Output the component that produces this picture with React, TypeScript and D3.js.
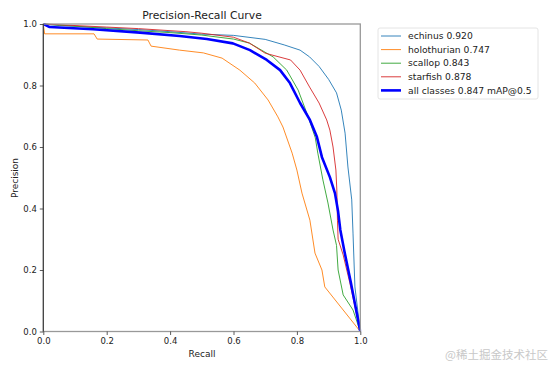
import React, { useEffect, useRef } from 'react';
import * as d3 from 'd3';

// [recall, precision] pairs
const echinus: [number, number][] = [
  [0, 1], [0.05, 0.995], [0.15, 0.99], [0.3, 0.982], [0.4, 0.975], [0.5, 0.967],
  [0.6, 0.963], [0.7, 0.95], [0.76, 0.932], [0.81, 0.915], [0.84, 0.893], [0.87, 0.862],
  [0.9, 0.82], [0.925, 0.776], [0.94, 0.72], [0.952, 0.645], [0.961, 0.535],
  [0.973, 0.428], [0.977, 0.32], [0.983, 0.145], [1, 0],
];
const holothurian: [number, number][] = [
  [0, 1], [0.004, 0.968], [0.16, 0.968], [0.17, 0.951], [0.33, 0.948], [0.34, 0.928],
  [0.43, 0.915], [0.505, 0.906], [0.564, 0.889], [0.62, 0.85], [0.667, 0.808],
  [0.709, 0.753], [0.74, 0.698], [0.756, 0.665], [0.785, 0.58], [0.8, 0.525],
  [0.816, 0.45], [0.841, 0.362], [0.857, 0.255], [0.879, 0.2], [0.888, 0.145], [1, 0],
];
const scallop: [number, number][] = [
  [0, 1], [0.1, 0.993], [0.2, 0.985], [0.3, 0.978], [0.4, 0.972], [0.5, 0.964],
  [0.6, 0.951], [0.65, 0.938], [0.725, 0.893], [0.768, 0.85], [0.804, 0.785],
  [0.835, 0.7], [0.858, 0.63], [0.866, 0.58], [0.882, 0.493], [0.898, 0.418],
  [0.914, 0.33], [0.925, 0.28], [0.93, 0.2], [0.946, 0.119], [0.977, 0.07], [1, 0],
];
const starfish: [number, number][] = [
  [0, 1], [0.1, 0.995], [0.2, 0.99], [0.3, 0.985], [0.45, 0.975], [0.5, 0.97],
  [0.6, 0.957], [0.65, 0.938], [0.7, 0.905], [0.78, 0.883], [0.81, 0.85], [0.84, 0.795],
  [0.87, 0.743], [0.894, 0.688], [0.904, 0.655], [0.914, 0.6], [0.923, 0.525],
  [0.926, 0.46], [0.928, 0.36], [0.93, 0.3], [0.946, 0.249], [0.967, 0.158], [1, 0],
];
const allClasses: [number, number][] = [
  [0, 1], [0.02, 0.99], [0.157, 0.983], [0.305, 0.972], [0.43, 0.961], [0.516, 0.951],
  [0.598, 0.937], [0.652, 0.915], [0.705, 0.883], [0.747, 0.85], [0.778, 0.808],
  [0.81, 0.743], [0.841, 0.688], [0.863, 0.633], [0.879, 0.567], [0.904, 0.502],
  [0.92, 0.45], [0.93, 0.39], [0.937, 0.33], [0.95, 0.26], [0.97, 0.16], [1, 0],
];

const seriesNames = ['echinus 0.920', 'holothurian 0.747', 'scallop 0.843', 'starfish 0.878', 'all classes 0.847 mAP@0.5'];
const seriesData = [echinus, holothurian, scallop, starfish, allClasses];
const seriesColors = ['#1f77b4', '#ff7f0e', '#2ca02c', '#d62728', '#0000ff'];
const tickValues = [0, 0.2, 0.4, 0.6, 0.8, 1.0];

const W = 553, H = 369;
const plot = { left: 43.3, right: 360.3, top: 24, bottom: 331.5 };
const font = 'DejaVu Sans, sans-serif';

const App = () => {
  const ref = useRef<SVGSVGElement>(null);

  useEffect(() => {
    const svg = d3.select(ref.current);
    svg.selectAll('*').remove();

    const x = d3.scaleLinear().domain([0, 1]).range([plot.left, plot.right]);
    const y = d3.scaleLinear().domain([0, 1]).range([plot.bottom, plot.top]);

    // curves
    const line = d3.line<[number, number]>().x(d => x(d[0])).y(d => y(d[1]));
    svg.append('clipPath').attr('id', 'plotclip').append('rect')
      .attr('x', plot.left).attr('y', plot.top - 1)
      .attr('width', plot.right - plot.left + 1).attr('height', plot.bottom - plot.top + 2);
    const g = svg.append('g').attr('clip-path', 'url(#plotclip)');
    seriesData.forEach((d, i) => {
      g.append('path')
        .attr('d', line(d))
        .attr('fill', 'none')
        .attr('stroke', seriesColors[i])
        .attr('stroke-width', i === 4 ? 2.6 : 0.9)
        .attr('stroke-linejoin', 'round');
    });

    // spines
    svg.append('rect')
      .attr('x', plot.left).attr('y', plot.top)
      .attr('width', plot.right - plot.left).attr('height', plot.bottom - plot.top)
      .attr('fill', 'none').attr('stroke', '#999').attr('stroke-width', 1.3);
    svg.append('line')
      .attr('x1', plot.left).attr('x2', plot.left).attr('y1', plot.top).attr('y2', plot.bottom)
      .attr('stroke', '#333').attr('stroke-width', 1);

    // axes
    const xAxis = svg.append('g')
      .attr('transform', `translate(0,${plot.bottom})`)
      .call(d3.axisBottom(x).tickValues(tickValues).tickFormat(d3.format('.1f')).tickSize(3.5).tickPadding(2.5).tickSizeOuter(0));
    const yAxis = svg.append('g')
      .attr('transform', `translate(${plot.left},0)`)
      .call(d3.axisLeft(y).tickValues(tickValues).tickFormat(d3.format('.1f')).tickSize(3.5).tickPadding(3).tickSizeOuter(0));
    [xAxis, yAxis].forEach(a => {
      a.select('.domain').remove();
      a.selectAll('line').attr('stroke', '#333').attr('stroke-width', 0.8);
      a.selectAll('text').attr('fill', '#222').style('font-family', font).style('font-size', '8.5px');
    });

    // title and labels
    svg.append('text').attr('x', 202).attr('y', 19).attr('text-anchor', 'middle')
      .style('font-family', font).style('font-size', '10.8px').attr('fill', '#222')
      .text('Precision-Recall Curve');
    svg.append('text').attr('x', 202).attr('y', 357).attr('text-anchor', 'middle')
      .style('font-family', font).style('font-size', '9px').attr('fill', '#222')
      .text('Recall');
    svg.append('text').attr('transform', `translate(18,178) rotate(-90)`).attr('text-anchor', 'middle')
      .style('font-family', font).style('font-size', '9px').attr('fill', '#222')
      .text('Precision');

    // legend
    const lg = svg.append('g');
    lg.append('rect').attr('x', 378).attr('y', 28).attr('width', 160).attr('height', 71)
      .attr('rx', 2).attr('fill', '#fff').attr('stroke', '#ddd').attr('stroke-width', 0.8);
    seriesNames.forEach((name, i) => {
      const ly = 36 + i * 13.6;
      lg.append('line').attr('x1', 381).attr('x2', 401).attr('y1', ly).attr('y2', ly)
        .attr('stroke', seriesColors[i]).attr('stroke-width', i === 4 ? 2.6 : 0.9);
      lg.append('text').attr('x', 408).attr('y', ly).attr('dy', '0.35em')
        .style('font-family', font).style('font-size', '9.2px').attr('fill', '#222')
        .text(name);
    });

    // watermark
    svg.append('text').attr('x', 548).attr('y', 359).attr('text-anchor', 'end')
      .style('font-family', '"Noto Sans CJK SC", sans-serif').style('font-size', '11.5px')
      .attr('fill', '#c8c8c8').text('@稀土掘金技术社区');
  }, []);

  return (
    <svg ref={ref} width={W} height={H}
      style={{ position: 'absolute', left: 0, top: 0, background: '#fff' }} />
  );
};

export default App;
